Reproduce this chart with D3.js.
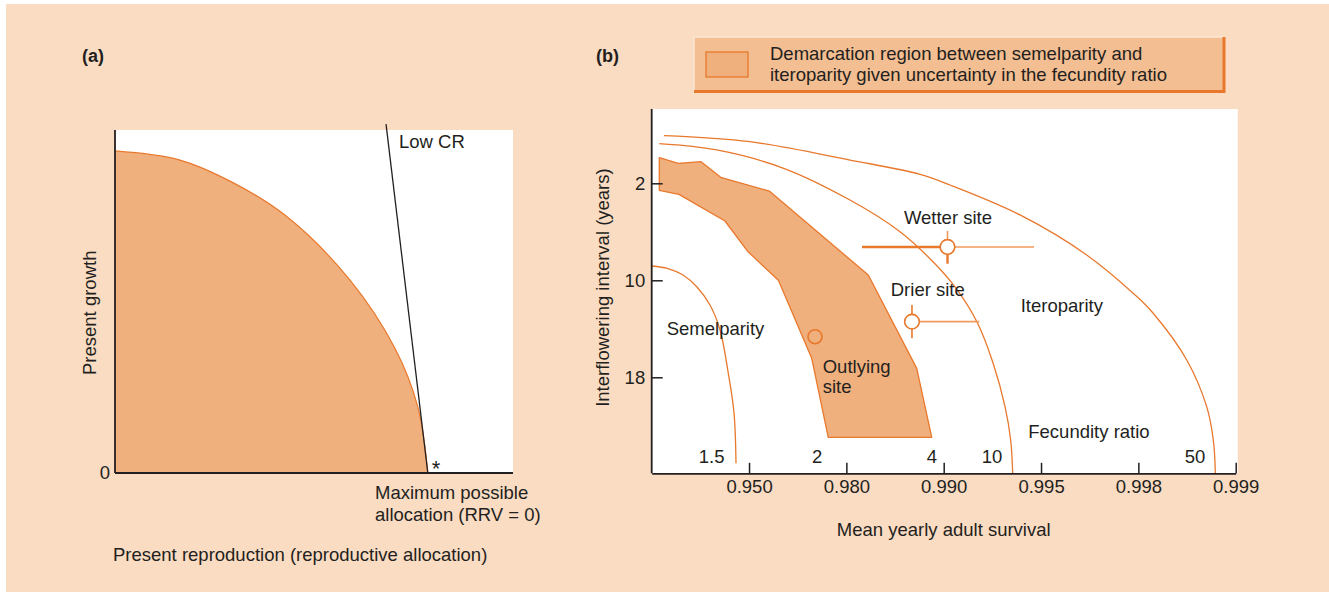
<!DOCTYPE html>
<html>
<head>
<meta charset="utf-8">
<script src="https://cdn.jsdelivr.net/npm/d3@7"></script>
<style>
  html, body { margin: 0; padding: 0; background: #ffffff; }
  svg text { font-family: "Liberation Sans", Arial, Helvetica, sans-serif; fill: #231f20; }
</style>
</head>
<body>
<script>
// ---------------- DATA ----------------
// Panel (a): conceptual trade-off curve (x: reproductive allocation 0..1, y: growth 0..1)
const tradeoffCurve = [[0,0.939],[0.161,0.913],[0.294,0.848],[0.430,0.749],[0.590,0.563],[0.704,0.362],[0.761,0.192],[0.786,0]];
const lowCRLine = [[0.681,1.017],[0.786,0]];

// Panel (b): x is tick index (1..6) of survival ticks, y is interflowering interval (years)
const survivalTicks = ["0.950","0.980","0.990","0.995","0.998","0.999"];
const survivalTickIdx = [1,2,3,4,5,6];
const intervalTicks = [2,10,18];

const fecundity50 = [[0.126,-1.93],[1.010,-1.43],[2.037,0.08],[2.757,1.26],[3.065,2.14],[3.784,4.61],[4.469,7.91],[4.966,11.21],[5.150,12.70],[5.497,16.57],[5.702,20.42],[5.770,23.17],[5.791,25.92]];
const fecundity10 = [[0.078,-1.27],[0.668,-0.75],[1.349,0.74],[2.037,3.38],[2.551,5.99],[2.890,8.47],[3.116,10.55],[3.342,13.44],[3.507,16.82],[3.630,20.42],[3.688,23.17],[3.709,25.92]];
const fecundity15 = [[0,8.82],[0.167,9.03],[0.322,9.56],[0.465,10.55],[0.599,12.04],[0.702,14.10],[0.787,17.67],[0.846,20.97],[0.866,25.09]];
const demarcationBand = [[0.078,-0.11],[0.273,0.35],[0.507,0.22],[0.709,1.51],[1.208,2.64],[2.225,9.56],[2.723,17.26],[2.877,22.95],[1.814,22.95],[1.644,16.43],[1.303,10.02],[0.982,7.58],[0.753,5.11],[0.280,2.91],[0.078,2.58]];

const fecundityLabels = ["1.5","2","4","10","50"];
const fecundityLabelX = [0.616,1.699,2.880,3.497,5.581];

const siteNames = ["Wetter site","Drier site","Outlying"];
const wetter = {u:3.039, yr:7.25, uLo:2.161, uHi:3.928, yrLo:5.93, yrHi:8.63};
const drier  = {u:2.674, yr:13.41, uHi:3.366, yrLo:12.04, yrHi:14.78};
const outlying = {u:1.678, yr:14.65};

// ---------------- STYLE ----------------
const BG = "#fadcc3", FILL = "#f0b07e", ORANGE = "#e8782c", LEG = "#f3be91", INK = "#231f20";
const FS = 18.5;

const svg = d3.select("body").append("svg").attr("width",1329).attr("height",592);
svg.append("rect").attr("x",6).attr("y",4).attr("width",1323).attr("height",588).attr("fill",BG);

// ================= PANEL (a) =================
const xA = d3.scaleLinear().domain([0,1]).range([115,513]);
const yA = d3.scaleLinear().domain([0,1]).range([473,130]);
svg.append("rect").attr("x",xA(0)).attr("y",yA(1)).attr("width",xA(1)-xA(0)).attr("height",yA(0)-yA(1)).attr("fill","#fff");

const curveA = d3.curveCatmullRom.alpha(0.5);
svg.append("path").datum(tradeoffCurve)
  .attr("d", d3.area().x(d=>xA(d[0])).y0(yA(0)).y1(d=>yA(d[1])).curve(curveA))
  .attr("fill",FILL);
svg.append("path").datum(tradeoffCurve)
  .attr("d", d3.line().x(d=>xA(d[0])).y(d=>yA(d[1])).curve(curveA))
  .attr("fill","none").attr("stroke",ORANGE).attr("stroke-width",1.2);
svg.append("path").datum(lowCRLine)
  .attr("d", d3.line().x(d=>xA(d[0])).y(d=>yA(d[1])))
  .attr("fill","none").attr("stroke",INK).attr("stroke-width",1.3);

// axes (a)
svg.append("line").attr("x1",xA(0)).attr("x2",xA(0)).attr("y1",yA(1)).attr("y2",yA(0)).attr("stroke",INK).attr("stroke-width",1.8);
svg.append("line").attr("x1",xA(0)).attr("x2",xA(1)).attr("y1",yA(0)).attr("y2",yA(0)).attr("stroke",INK).attr("stroke-width",1.8);

svg.append("text").attr("x",82).attr("y",62).attr("font-size",18).attr("font-weight","bold").text("(a)");
svg.append("text").attr("x",399).attr("y",148).attr("font-size",FS).text("Low CR");
svg.append("text").attr("x",xA(0)-5).attr("y",yA(0)).attr("dy","0.35em").attr("text-anchor","end").attr("font-size",FS).text("0");
svg.append("text").attr("x",xA(0.796)).attr("y",yA(0)+3).attr("font-size",22).text("*");
svg.append("text").attr("x",375).attr("y",499).attr("font-size",FS).text("Maximum possible");
svg.append("text").attr("x",375).attr("y",521).attr("font-size",FS).text("allocation (RRV = 0)");
svg.append("text").attr("x",113).attr("y",561).attr("font-size",FS).text("Present reproduction (reproductive allocation)");
svg.append("text").attr("transform","translate(95.5,375) rotate(-90)").attr("font-size",FS).text("Present growth");

// ================= PANEL (b) =================
const xB = d3.scaleLinear().domain([0,6]).range([651.7,1235.7]);
const yB = d3.scaleLinear().domain([2,18]).range([183.3,377.3]);
const yTop = yB.invert(109), yBot = yB.invert(473.3);
svg.append("rect").attr("x",xB(0)).attr("y",yB(yTop)).attr("width",xB(6)-xB(0)+2).attr("height",yB(yBot)-yB(yTop)).attr("fill","#fff");

const lineB = d3.line().x(d=>xB(d[0])).y(d=>yB(d[1])).curve(d3.curveCatmullRom.alpha(0.5));
svg.append("path").datum(demarcationBand)
  .attr("d", d3.line().x(d=>xB(d[0])).y(d=>yB(d[1])).curve(d3.curveLinearClosed))
  .attr("fill",FILL).attr("stroke",ORANGE).attr("stroke-width",1.3).attr("stroke-linejoin","round");
[fecundity50, fecundity10, fecundity15].forEach(c=>{
  svg.append("path").datum(c).attr("d",lineB).attr("fill","none").attr("stroke",ORANGE).attr("stroke-width",1.3);
});

// axes (b)
const gx = svg.append("g").attr("transform",`translate(0,${yB(yBot)})`)
  .call(d3.axisBottom(xB).tickValues(survivalTickIdx).tickFormat(i=>survivalTicks[i-1]).tickSizeInner(-10.5).tickSizeOuter(0).tickPadding(7));
const gy = svg.append("g").attr("transform",`translate(${xB(0)},0)`)
  .call(d3.axisLeft(yB).tickValues(intervalTicks).tickSizeInner(-11).tickSizeOuter(0).tickPadding(6.5));
[gx,gy].forEach(g=>{
  g.select(".domain").attr("stroke",INK).attr("stroke-width",1.8);
  g.selectAll(".tick line").attr("stroke",INK).attr("stroke-width",1.5);
  g.selectAll(".tick text").attr("font-size",FS).attr("fill",INK).attr("font-family","Liberation Sans, Arial, sans-serif");
});
gy.select(".domain").attr("d",`M0,${yB(yTop)}V${yB(yBot)}`);

// error bars / sites
const LIGHT = "#f09a5c";
svg.append("line").attr("x1",xB(wetter.uLo)).attr("x2",xB(wetter.u)).attr("y1",yB(wetter.yr)).attr("y2",yB(wetter.yr)).attr("stroke",ORANGE).attr("stroke-width",2.4);
svg.append("line").attr("x1",xB(wetter.u)).attr("x2",xB(wetter.uHi)).attr("y1",yB(wetter.yr)).attr("y2",yB(wetter.yr)).attr("stroke",LIGHT).attr("stroke-width",1.6);
svg.append("line").attr("x1",xB(wetter.u)).attr("x2",xB(wetter.u)).attr("y1",yB(wetter.yrLo)).attr("y2",yB(wetter.yr)).attr("stroke",LIGHT).attr("stroke-width",1.6);
svg.append("line").attr("x1",xB(wetter.u)).attr("x2",xB(wetter.u)).attr("y1",yB(wetter.yr)).attr("y2",yB(wetter.yrHi)).attr("stroke",ORANGE).attr("stroke-width",2.4);
svg.append("circle").attr("cx",xB(wetter.u)).attr("cy",yB(wetter.yr)).attr("r",7.3).attr("fill","#fff").attr("stroke",ORANGE).attr("stroke-width",1.6);

svg.append("line").attr("x1",xB(drier.u)).attr("x2",xB(drier.uHi)).attr("y1",yB(drier.yr)).attr("y2",yB(drier.yr)).attr("stroke",LIGHT).attr("stroke-width",1.6);
svg.append("line").attr("x1",xB(drier.u)).attr("x2",xB(drier.u)).attr("y1",yB(drier.yrLo)).attr("y2",yB(drier.yrHi)).attr("stroke",ORANGE).attr("stroke-width",1.6);
svg.append("circle").attr("cx",xB(drier.u)).attr("cy",yB(drier.yr)).attr("r",7.3).attr("fill","#fff").attr("stroke",ORANGE).attr("stroke-width",1.6);

svg.append("circle").attr("cx",xB(outlying.u)).attr("cy",yB(outlying.yr)).attr("r",7).attr("fill","none").attr("stroke",ORANGE).attr("stroke-width",1.6);

// labels (b)
const lbl = (t,u,yr,anchor)=>svg.append("text").attr("x",xB(u)).attr("y",yB(yr)).attr("font-size",FS).attr("text-anchor",anchor||"start").text(t);
lbl(siteNames[0],2.591,5.36);
lbl(siteNames[1],2.456,11.29);
lbl(siteNames[2],1.757,17.67);
lbl("site",1.757,19.32);
lbl("Iteroparity",3.791,12.59);
lbl("Semelparity",0.154,14.51);
lbl("Fecundity ratio",3.869,23.03);
fecundityLabels.forEach((t,i)=>lbl(t,fecundityLabelX[i],25.03,"middle"));

svg.append("text").attr("x",(xB(0)+xB(6))/2).attr("y",536).attr("text-anchor","middle").attr("font-size",FS).text("Mean yearly adult survival");
svg.append("text").attr("transform",`translate(609,${yB(10.6)}) rotate(-90)`).attr("text-anchor","middle").attr("font-size",FS).text("Interflowering interval (years)");
svg.append("text").attr("x",596).attr("y",62).attr("font-size",18).attr("font-weight","bold").text("(b)");

// legend
const lg = svg.append("g");
lg.append("rect").attr("x",694).attr("y",37).attr("width",531).attr("height",55).attr("fill",LEG);
lg.append("path").attr("d","M694,92 V37 H1225").attr("fill","none").attr("stroke","#fbe6d4").attr("stroke-width",1.5);
lg.append("path").attr("d","M1224,37 V91.5 H694").attr("fill","none").attr("stroke",ORANGE).attr("stroke-width",3);
lg.append("rect").attr("x",706).attr("y",52).attr("width",42).attr("height",25).attr("fill",FILL).attr("stroke",ORANGE).attr("stroke-width",1.3);
lg.append("text").attr("x",770).attr("y",59.5).attr("font-size",FS).text("Demarcation region between semelparity and");
lg.append("text").attr("x",770).attr("y",80.5).attr("font-size",FS).text("iteroparity given uncertainty in the fecundity ratio");
</script>
</body>
</html>
